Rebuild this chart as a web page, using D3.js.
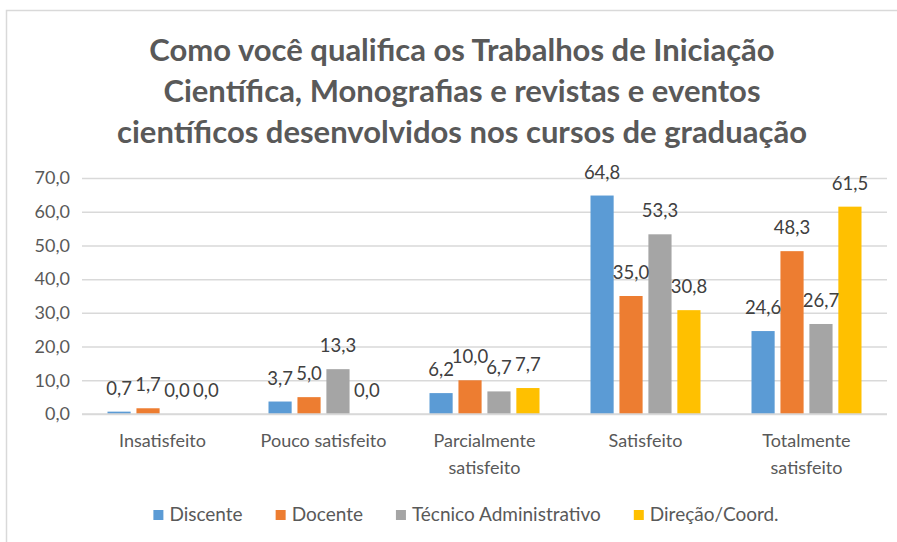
<!DOCTYPE html>
<html><head><meta charset="utf-8">
<script src="https://cdn.jsdelivr.net/npm/d3@7"></script>
<style>body{margin:0;background:#fff}svg{display:block}text{font-family:Lato,"Open Sans",sans-serif}</style>
</head><body><svg id="c" width="897" height="542"></svg>
<script>
const titleLines = ["Como você qualifica os Trabalhos de Iniciação","Científica, Monografias e revistas e eventos","científicos desenvolvidos nos cursos de graduação"];
const categories = ["Insatisfeito","Pouco satisfeito","Parcialmente satisfeito","Satisfeito","Totalmente satisfeito"];
const seriesNames = ["Discente","Docente","Técnico Administrativo","Direção/Coord."];
const discente = [0.7, 3.7, 6.2, 64.8, 24.6];
const docente = [1.7, 5.0, 10.0, 35.0, 48.3];
const tecnico = [0.0, 13.3, 6.7, 53.3, 26.7];
const direcao = [0.0, 0.0, 7.7, 30.8, 61.5];
const yTicks = [0,10,20,30,40,50,60,70];
const colors = ["#5B9BD5","#ED7D31","#A5A5A5","#FFC000"];
const seriesValues = [discente, docente, tecnico, direcao];

const svg = d3.select("#c");
svg.append("rect").attr("x",6.5).attr("y",10.5).attr("width",900).attr("height",540)
  .attr("fill","#fff").attr("stroke","#D9D9D9").attr("stroke-width",1.5);

const fmt = v => v.toFixed(1).replace(".", ",");

const x0 = d3.scaleBand().domain(categories).range([82, 887]);
const groupW = 110;
const x1 = d3.scaleBand().domain(seriesNames).range([0, groupW]).paddingInner(0.2);
const y = d3.scaleLinear().domain([0,70]).range([414,178]);

// title
svg.append("g").selectAll("text").data(titleLines).join("text")
  .attr("x", 462).attr("y",(d,i)=>61 + i*41)
  .attr("text-anchor","middle").attr("font-size",31).attr("font-weight","bold")
  .attr("fill","#595959").text(d=>d);

// gridlines
const yAxis = d3.axisLeft(y).tickValues(yTicks).tickSize(-(887-82)).tickFormat(fmt).tickPadding(12);
const ga = svg.append("g").attr("transform","translate(82,0)").call(yAxis);
ga.select(".domain").remove();
ga.selectAll(".tick line").attr("stroke","#D9D9D9").attr("stroke-width",1.5);
ga.selectAll(".tick text").attr("font-size",18).attr("fill","#595959").attr("font-family","Lato");

// bars
const groups = svg.append("g").selectAll("g").data(categories).join("g")
  .attr("transform", c => `translate(${x0(c) + (x0.bandwidth()-groupW)/2},0)`);
groups.selectAll("rect").data((c,ci)=>seriesNames.map((s,si)=>({s,si,v:seriesValues[si][ci]}))).join("rect")
  .attr("x", d=>x1(d.s)).attr("width", x1.bandwidth())
  .attr("y", d=>y(d.v)).attr("height", d=>y(0)-y(d.v))
  .attr("fill", d=>colors[d.si]);
groups.selectAll("text").data((c,ci)=>seriesNames.map((s,si)=>({s,si,v:seriesValues[si][ci]}))).join("text")
  .attr("x", d=>x1(d.s)+x1.bandwidth()/2).attr("y", d=>y(d.v)-17)
  .attr("text-anchor","middle").attr("font-size",18.5).attr("fill","#404040")
  .text(d=>fmt(d.v));

// x axis line
svg.append("line").attr("x1",82).attr("x2",887).attr("y1",y(0)).attr("y2",y(0))
  .attr("stroke","#D9D9D9").attr("stroke-width",1.5);

// category labels
const cl = svg.append("g").selectAll("text").data(categories).join("text")
  .attr("text-anchor","middle").attr("font-size",18).attr("fill","#595959");
cl.each(function(c){
  const lines = c.length > 16 ? c.split(" ") : [c];
  const t = d3.select(this);
  lines.forEach((l,i)=>t.append("tspan").attr("x", x0(c)+x0.bandwidth()/2).attr("y", 447 + i*27).text(l));
});

// legend
const lg = svg.append("g");
let cx = 0;
seriesNames.forEach((s,i)=>{
  const g = lg.append("g").attr("transform",`translate(${cx},0)`);
  g.append("rect").attr("x",0).attr("y",-11).attr("width",10).attr("height",10).attr("fill",colors[i]);
  const t = g.append("text").attr("x",16).attr("y",0).attr("font-size",19).attr("fill","#595959").text(s);
  cx += 16 + t.node().getComputedTextLength() + 33;
});
const totalW = cx - 33;
lg.attr("transform",`translate(${466 - totalW/2},521)`);
</script></body></html>
